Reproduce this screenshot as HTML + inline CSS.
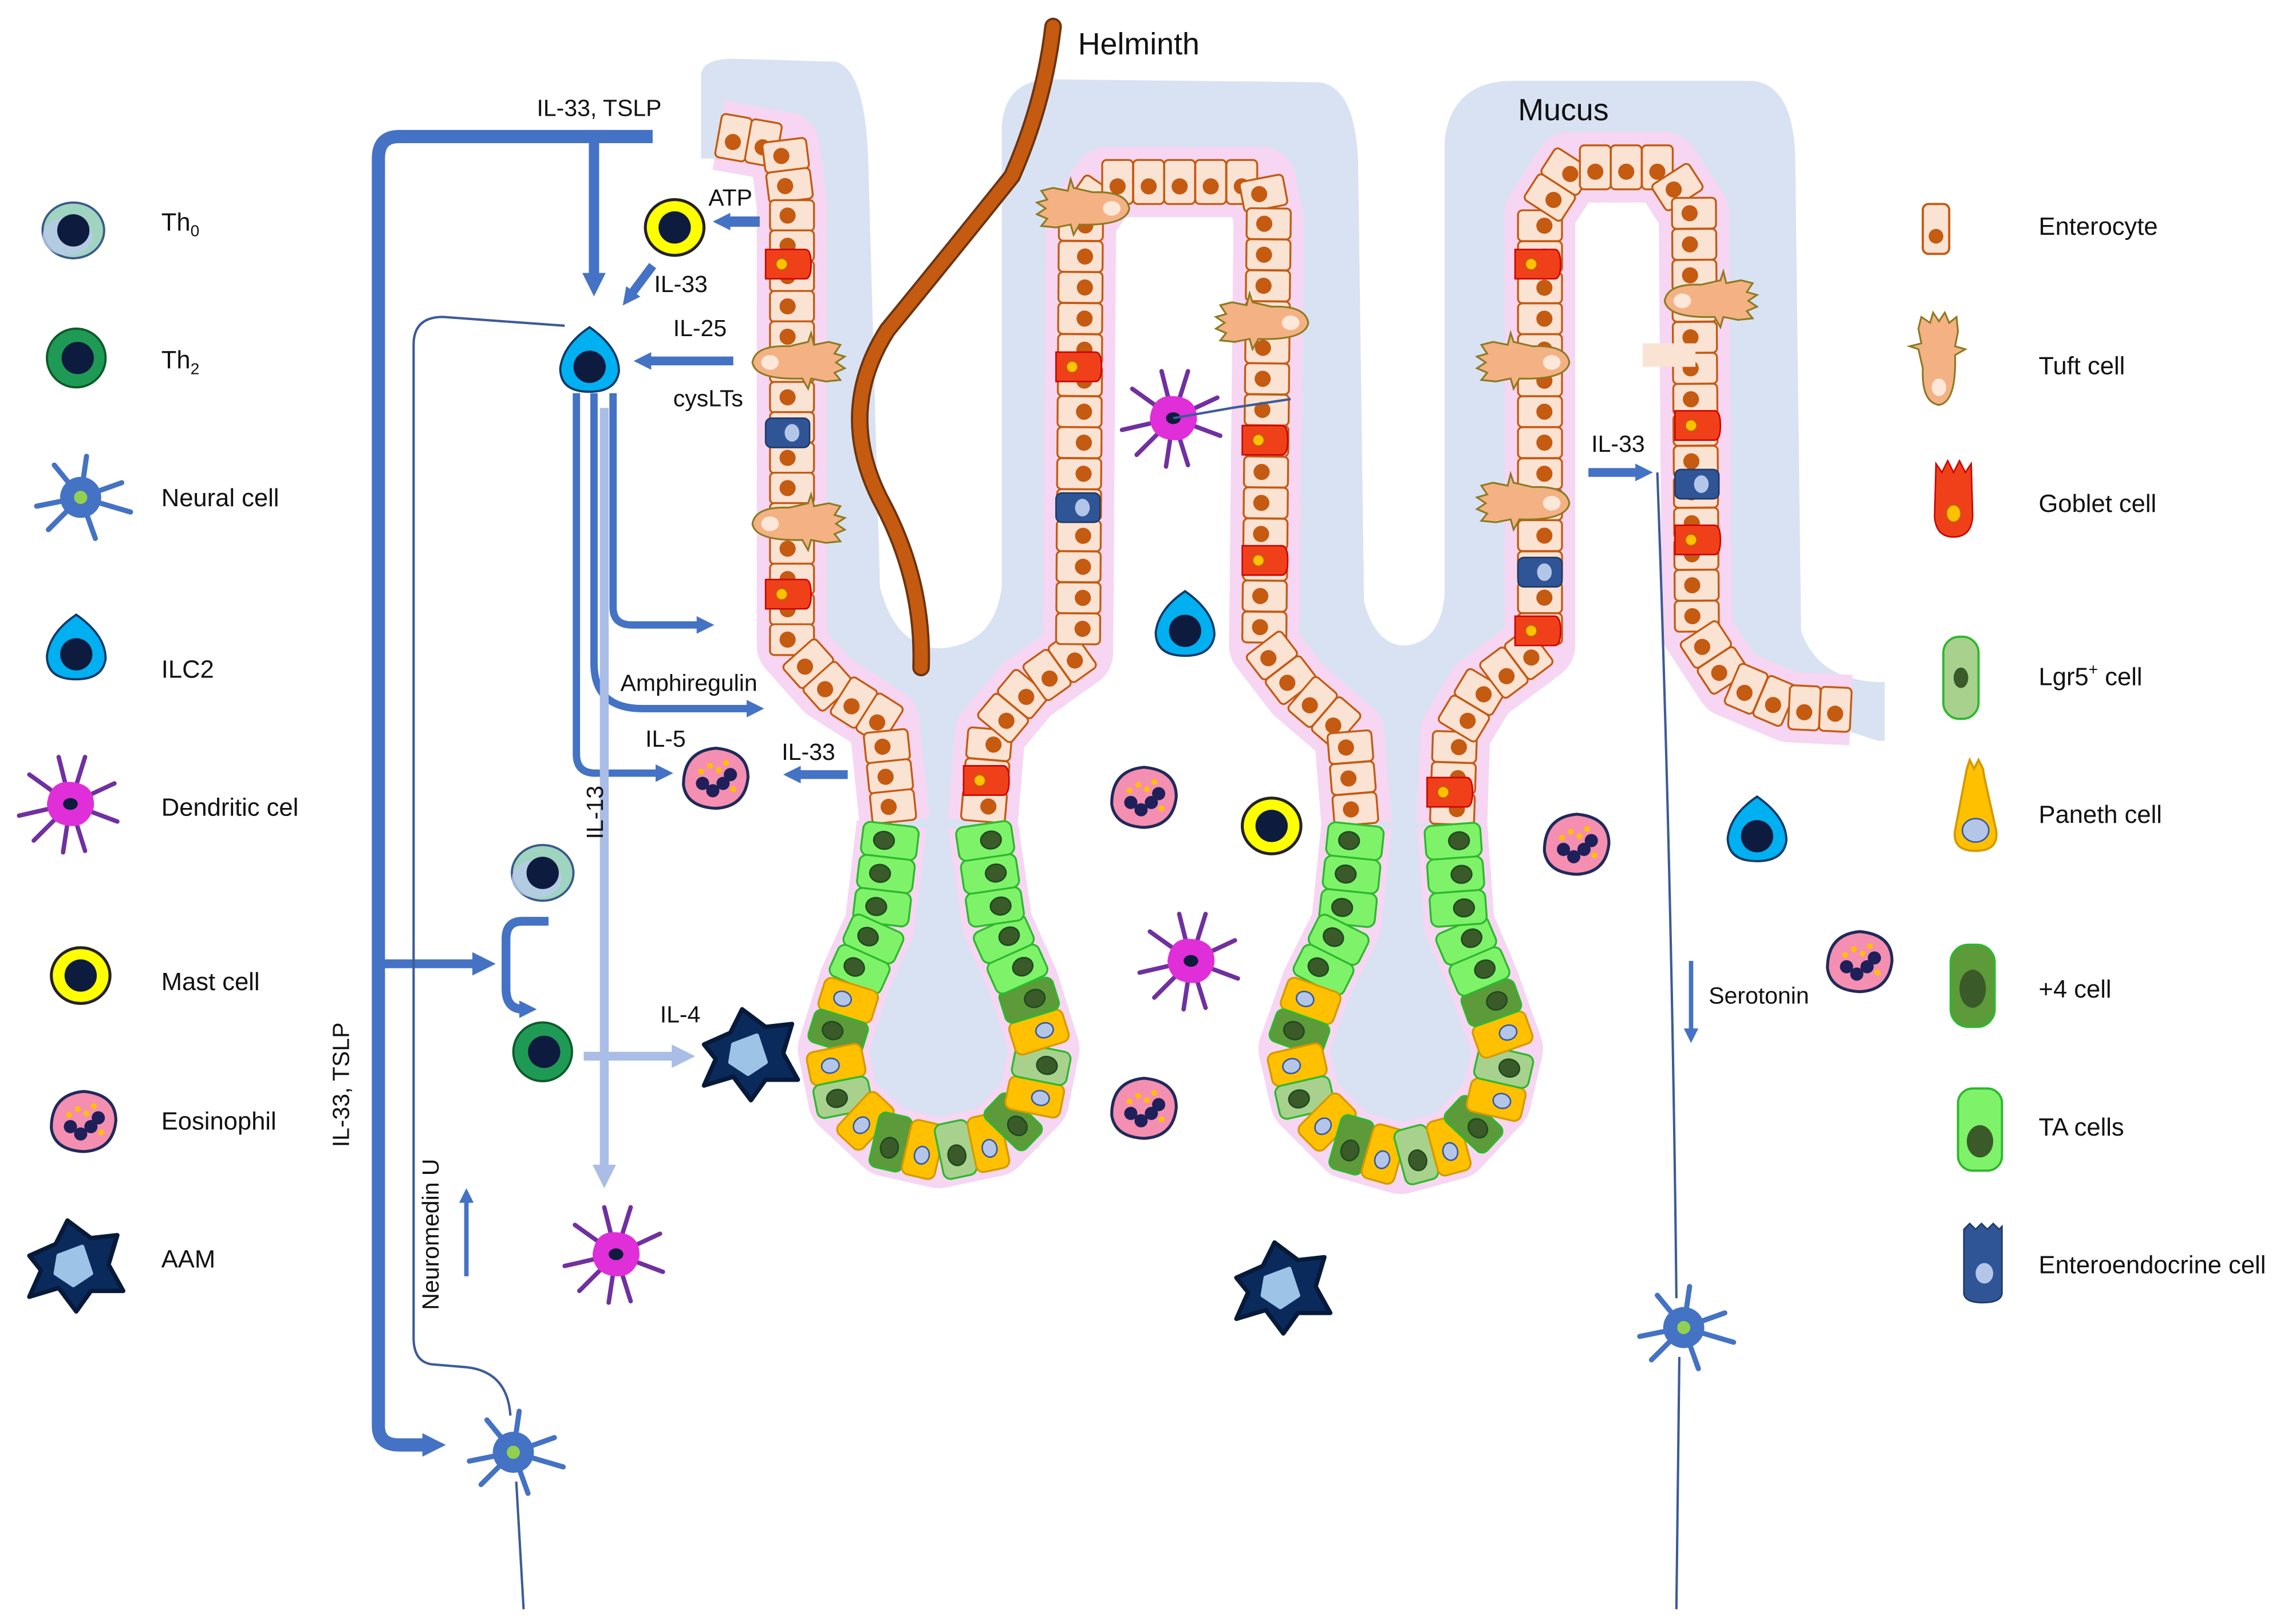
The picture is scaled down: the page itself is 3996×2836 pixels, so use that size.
<!DOCTYPE html>
<html><head><meta charset="utf-8"><style>
html,body{margin:0;padding:0;background:#fff}
svg{display:block}
text{font-family:"Liberation Sans",sans-serif;fill:#111}
</style></head><body>
<svg id="s" width="3996" height="2836" viewBox="0 0 1560 1107" xmlns="http://www.w3.org/2000/svg">
<defs>
<marker id="ah" markerUnits="userSpaceOnUse" markerWidth="20" markerHeight="20" refX="4" refY="10" orient="auto"><path d="M0,2 L16,10 L0,18 Z" fill="#4472c4"/></marker>
<marker id="ahs" markerUnits="userSpaceOnUse" markerWidth="16" markerHeight="16" refX="3" refY="8" orient="auto"><path d="M0,2 L12,8 L0,14 Z" fill="#4472c4"/></marker>
<marker id="ahl" markerUnits="userSpaceOnUse" markerWidth="20" markerHeight="20" refX="4" refY="10" orient="auto"><path d="M0,2 L16,10 L0,18 Z" fill="#a9bde6"/></marker>
<marker id="aht" markerUnits="userSpaceOnUse" markerWidth="12" markerHeight="12" refX="2" refY="6" orient="auto"><path d="M0,1 L10,6 L0,11 Z" fill="#4472c4"/></marker>
</defs>
<path d="M478,50 Q480,40 500,40 L570,42 Q590,48 592,110 L600,400 Q610,440 640,442 Q678,440 683,400 L683,85 Q686,55 715,54 L900,56 Q924,60 926,110 L930,410 Q938,440 958,440 Q982,438 985,405 L985,95 Q990,56 1030,55 L1195,55 Q1222,58 1224,105 L1228,430 Q1240,465 1285,465 L1285,505 L478,505 Z" fill="#d8e2f2"/>
<path d="M470,108 L522,108 L524,440 L560,472 L600,505 L470,505 Z" fill="#fff"/>
<path d="M752,140 L848,140 L850,440 L885,478 L915,505 L695,505 L718,478 L752,440 Z" fill="#fff"/>
<path d="M1066,128 L1140,128 L1143,435 L1172,470 L1290,508 L998,508 L1015,478 L1064,440 Z" fill="#fff"/>
<path d="M612,470 L670,470 L670,560 L690,660 L705,740 L640,782 L575,740 L590,660 L610,560 Z" fill="#d8e2f2"/>
<path d="M928,470 L990,470 L992,560 L1010,660 L1025,745 L955,792 L885,745 L900,660 L922,560 Z" fill="#d8e2f2"/>
<g id="epi"></g>
<path d="M718,18 Q712,70 690,120 Q650,170 605,225 Q570,280 600,340 Q630,395 628,455" fill="none" stroke="#6b3410" stroke-width="12" stroke-linecap="round"/>
<path d="M718,18 Q712,70 690,120 Q650,170 605,225 Q570,280 600,340 Q630,395 628,455" fill="none" stroke="#c55a11" stroke-width="9" stroke-linecap="round"/>
<g id="cells"></g>
<g fill="none" stroke="#4472c4">
<path d="M445,93 L272,93 Q258,93 258,108 L258,972 Q258,985 272,985 L292,985" stroke-width="9" marker-end="url(#ah)"/>
<path d="M405,93 L405,190" stroke-width="7" marker-end="url(#ah)"/>
<path d="M258,657 L326,657" stroke-width="6" marker-end="url(#ah)"/>
<path d="M374,628 L356,628 Q345,628 345,640 L345,674 Q345,688 357,688" stroke-width="6" marker-end="url(#ahs)"/>
<path d="M518,151 L495,151" stroke-width="7" marker-end="url(#ahs)"/>
<path d="M445,181 L430,201" stroke-width="6" marker-end="url(#ahs)"/>
<path d="M500,246 L441,246" stroke-width="6" marker-end="url(#ahs)"/>
<path d="M578,528 L543,528" stroke-width="6" marker-end="url(#ahs)"/>
<path d="M1083,322 L1118,322" stroke-width="6" marker-end="url(#ahs)"/>
<path d="M393,268 L393,514 Q393,527 406,527 L450,527" stroke-width="5" marker-end="url(#ahs)"/>
<path d="M405,268 L405,452 Q405,483 438,483 L512,483" stroke-width="5" marker-end="url(#ahs)"/>
<path d="M418,268 L418,414 Q418,426 431,426 L478,426" stroke-width="5" marker-end="url(#ahs)"/>
<path d="M1153,655 L1153,703" stroke-width="3" marker-end="url(#aht)"/>
<path d="M318,870 L318,818" stroke-width="3" marker-end="url(#aht)"/>
</g>
<g fill="none" stroke="#a9bde6">
<path d="M412,278 L412,798" stroke-width="6" marker-end="url(#ahl)"/>
<path d="M398,720 L462,720" stroke-width="6" marker-end="url(#ahl)"/>
</g>
<g fill="none" stroke="#3d5a99" stroke-width="1.6">
<path d="M348,965 Q346,935 318,932 L294,930 Q282,928 282,912 L282,235 Q282,216 302,216 L385,222"/>
<path d="M352,1010 L357,1097"/>
<path d="M1130,322 Q1140,600 1143,885"/>
<path d="M1145,925 L1143,1097"/>
<path d="M800,285 L840,278 L880,272"/>
</g>
<g font-size="16">
<text x="366" y="79">IL-33, TSLP</text>
<text x="483" y="140">ATP</text>
<text x="446" y="199">IL-33</text>
<text x="459" y="229">IL-25</text>
<text x="459" y="277">cysLTs</text>
<text x="423" y="471">Amphiregulin</text>
<text x="440" y="509">IL-5</text>
<text x="533" y="518">IL-33</text>
<text x="450" y="697">IL-4</text>
<text x="1085" y="308">IL-33</text>
<text x="1165" y="684">Serotonin</text>
<text transform="translate(411,572) rotate(-90)">IL-13</text>
<text transform="translate(238,782) rotate(-90)">IL-33, TSLP</text>
<text transform="translate(299,893) rotate(-90)">Neuromedin U</text>
</g>
<text x="735" y="37" font-size="21">Helminth</text>
<text x="1035" y="82" font-size="21">Mucus</text>
<g font-size="17">
<text x="110" y="157">Th<tspan font-size="11" dy="4">0</tspan></text>
<text x="110" y="251">Th<tspan font-size="11" dy="4">2</tspan></text>
<text x="110" y="345">Neural cell</text>
<text x="110" y="462">ILC2</text>
<text x="110" y="556">Dendritic cel</text>
<text x="110" y="675">Mast cell</text>
<text x="110" y="770">Eosinophil</text>
<text x="110" y="864">AAM</text>
<text x="1390" y="160">Enterocyte</text>
<text x="1390" y="255">Tuft cell</text>
<text x="1390" y="349">Goblet cell</text>
<text x="1390" y="467">Lgr5<tspan font-size="11" dy="-7">+</tspan><tspan dy="7"> cell</tspan></text>
<text x="1390" y="561">Paneth cell</text>
<text x="1390" y="680">+4 cell</text>
<text x="1390" y="774">TA cells</text>
<text x="1390" y="868">Enteroendocrine cell</text>
</g>
</svg>
<script>
(function(){
var epi=document.getElementById('epi'), cg=document.getElementById('cells');
var eh="", ch="";
function walk(pts,step,fn){
  var segs=[],tot=0;
  for(var i=0;i<pts.length-1;i++){var dx=pts[i+1][0]-pts[i][0],dy=pts[i+1][1]-pts[i][1],l=Math.hypot(dx,dy);segs.push([pts[i],dx,dy,l]);tot+=l;}
  var n=Math.max(1,Math.round(tot/step)),st=tot/n;
  for(var k=0;k<n;k++){var d=(k+0.5)*st,j=0;while(j<segs.length-1&&d>segs[j][3]){d-=segs[j][3];j++;}
   var s=segs[j],t=d/s[3];fn(s[0][0]+s[1]*t,s[0][1]+s[2]*t,Math.atan2(s[2],s[1])*180/Math.PI,k,n,st);}
}
function pl(p){return "M"+p.map(function(q){return q.join(",")}).join(" L");}
var ent=[
 [[490,92],[535,100],[540,140],[540,440],[565,468],[603,492],[610,560]],
 [[670,560],[675,500],[700,470],[735,445],[737,150],[755,124],[860,124],[865,150],[862,440],[885,470],[920,500],[925,562]],
 [[990,562],[992,500],[1010,470],[1050,440],[1050,145],[1070,114],[1135,114],[1155,145],[1157,430],[1180,465],[1220,482],[1262,484]]
];
var cr=[
 [[608,562],[600,630],[582,670],[568,715],[575,750],[605,778],[640,786],[678,778],[705,750],[712,715],[698,670],[680,630],[670,562]],
 [[925,562],[918,630],[898,670],[882,715],[890,750],[920,780],[955,790],[992,780],[1020,750],[1028,715],[1012,670],[995,630],[990,562]]
];
ent.concat(cr).forEach(function(p){eh+='<path d="'+pl(p)+'" fill="none" stroke="#f6d6f2" stroke-width="48" stroke-linejoin="round"/>';});
ent.forEach(function(p){walk(p,21,function(x,y,a){
 eh+='<g transform="translate('+x.toFixed(1)+','+y.toFixed(1)+') rotate('+a.toFixed(1)+')"><rect x="-10.5" y="-15" width="21" height="30" rx="3" fill="#fbe3d4" stroke="#c55a11" stroke-width="1.3"/><circle cx="0" cy="3" r="5.5" fill="#c55a11"/></g>';
});});
cr.forEach(function(p){walk(p,23,function(x,y,a,k,n){
 var col="#7ef36a",sk="#2eb82e",nu="#3a5a2a",r=6,nc="#1d4a1d";
 if(k>=5&&k<n-5){var m=(k-5)%4;if(m==0||m==2){col="#ffc000";sk="#d49a00";nu="#b4c6e7";r=5;nc="#3355aa";}else if(m==1){col="#5c9a3a";sk="#2eb82e";}else{col="#a9d18e";}}
 eh+='<g transform="translate('+x.toFixed(1)+','+y.toFixed(1)+') rotate('+a.toFixed(1)+')"><rect x="-11.5" y="-19" width="23" height="38" rx="5" fill="'+col+'" stroke="'+sk+'" stroke-width="1.3"/><ellipse cx="0" cy="4" rx="'+r+'" ry="'+(r+1)+'" fill="'+nu+'" stroke="'+nc+'" stroke-width="1"/></g>';
});});
function gob(x,y){eh+='<g transform="translate('+x+','+y+')"><path d="M-15,-10 L12,-10 Q16,-10 16,0 Q16,10 12,10 L-15,10 Z" fill="#f0401a" stroke="#c00" stroke-width="1"/><circle cx="-4" cy="0" r="4" fill="#ffc000" stroke="#c55a11"/></g>';}
function eec(x,y){eh+='<g transform="translate('+x+','+y+')"><rect x="-15" y="-10" width="30" height="20" rx="4" fill="#2f5597" stroke="#1f3864"/><ellipse cx="3" cy="0" rx="5" ry="6" fill="#b4c6e7"/></g>';}
[[537,180],[537,405],[735,250],[862,300],[862,382],[1048,180],[1048,430],[1157,290],[1157,368],[672,532],[988,540]].forEach(function(q){gob(q[0],q[1]);});
[[537,295],[735,346],[1157,330],[1050,390]].forEach(function(q){eec(q[0],q[1]);});
function tuft(x,y,fl){eh+='<g transform="translate('+x+','+y+') scale('+(fl?-1:1)+',1)"><path d="M-30,0 Q-28,-12 -5,-11 L8,-14 L10,-20 L12,-12 L22,-14 L30,-12 L26,-6 L33,-4 L27,0 L33,4 L26,7 L30,12 L20,13 L10,11 L8,18 L4,11 Q-28,12 -30,0 Z" fill="#f4b183" stroke="#8a7a20" stroke-width="1.2"/><ellipse cx="-18" cy="0" rx="6" ry="5" fill="#fde7d8"/></g>';}
tuft(543,247);tuft(543,357);tuft(740,142,true);tuft(862,220,true);tuft(1040,247,true);tuft(1040,343,true);tuft(1165,205);
eh+='<rect x="1120" y="234" width="36" height="16" fill="#fbe3d4"/>';
epi.innerHTML=eh;
function th0(x,y){return '<ellipse cx="'+x+'" cy="'+y+'" rx="21" ry="19" fill="#9fd4c0" stroke="#3a5a8a" stroke-width="1.5"/><ellipse cx="'+(x-4)+'" cy="'+(y+4)+'" rx="17" ry="13" fill="#b9c9ea" opacity=".8"/><circle cx="'+x+'" cy="'+y+'" r="11" fill="#0d1b3e"/>';}
function th2(x,y){return '<ellipse cx="'+x+'" cy="'+y+'" rx="20" ry="20" fill="#1f9a55" stroke="#0d5a2a" stroke-width="1.5"/><circle cx="'+(x+1)+'" cy="'+y+'" r="11" fill="#0d1b3e"/>';}
function ilc(x,y){return '<path d="M'+x+','+(y-24)+' Q'+(x+20)+','+(y-10)+' '+(x+20)+','+(y+6)+' Q'+(x+18)+','+(y+20)+' '+x+','+(y+20)+' Q'+(x-20)+','+(y+20)+' '+(x-20)+','+(y+4)+' Q'+(x-18)+','+(y-12)+' '+x+','+(y-24)+'Z" fill="#00b0f0" stroke="#0b3a6a" stroke-width="1.5"/><circle cx="'+x+'" cy="'+(y+3)+'" r="11" fill="#0d1b3e"/>';}
function mast(x,y){return '<ellipse cx="'+x+'" cy="'+y+'" rx="20" ry="19" fill="#ffff00" stroke="#222" stroke-width="2"/><circle cx="'+x+'" cy="'+y+'" r="11" fill="#0d1b3e"/>';}
function eos(x,y){var s='<path d="M'+(x-22)+','+(y+5)+' Q'+(x-22)+','+(y-18)+' '+(x)+','+(y-20)+' Q'+(x+22)+','+(y-18)+' '+(x+22)+','+y+' Q'+(x+20)+','+(y+20)+' '+x+','+(y+21)+' Q'+(x-20)+','+(y+20)+' '+(x-22)+','+(y+5)+'Z" fill="#f48fb1" stroke="#1f2a5a" stroke-width="2"/>';
 [[-9,4],[-2,9],[5,4],[10,-2]].forEach(function(o){s+='<circle cx="'+(x+o[0])+'" cy="'+(y+o[1])+'" r="4.5" fill="#1f1f5a"/>';});
 [[-4,-8],[2,-5],[-10,-4],[7,-10],[12,8]].forEach(function(o){s+='<circle cx="'+(x+o[0])+'" cy="'+(y+o[1])+'" r="2" fill="#ffc000"/>';});return s;}
function dc(x,y){var s='';[[-35,8],[-28,-20],[-8,-32],[10,-32],[30,-14],[32,12],[10,32],[-5,33],[-25,25]].forEach(function(o){s+='<path d="M'+x+','+y+' L'+(x+o[0])+','+(y+o[1])+'" stroke="#7030a0" stroke-width="3" stroke-linecap="round"/>';});
 s+='<path d="M'+(x-16)+','+y+' Q'+(x-14)+','+(y-16)+' '+x+','+(y-15)+' Q'+(x+17)+','+(y-14)+' '+(x+16)+','+(y+2)+' Q'+(x+12)+','+(y+16)+' '+x+','+(y+15)+' Q'+(x-15)+','+(y+14)+' '+(x-16)+','+y+'Z" fill="#e02ed8"/>';
 s+='<ellipse cx="'+x+'" cy="'+y+'" rx="5" ry="4" fill="#0d1b3e"/>';return s;}
function neu(x,y){var s='';[[-30,6],[-18,-22],[4,-28],[28,-10],[34,10],[10,28],[-22,22]].forEach(function(o){s+='<path d="M'+x+','+y+' L'+(x+o[0])+','+(y+o[1])+'" stroke="#4472c4" stroke-width="3.5" stroke-linecap="round"/>';});
 s+='<circle cx="'+x+'" cy="'+y+'" r="14" fill="#4472c4"/><circle cx="'+x+'" cy="'+y+'" r="4.5" fill="#92d050"/>';return s;}
function aam(x,y){return '<path d="M'+(x-30)+','+(y-6)+' L'+(x-12)+','+(y-14)+' L'+(x-4)+','+(y-30)+' L'+(x+12)+','+(y-18)+' L'+(x+30)+','+(y-20)+' L'+(x+24)+','+(y)+' L'+(x+34)+','+(y+18)+' L'+(x+12)+','+(y+18)+' L'+(x+2)+','+(y+32)+' L'+(x-10)+','+(y+16)+' L'+(x-30)+','+(y+22)+' L'+(x-22)+','+(y+4)+'Z" fill="#0b2a5c" stroke="#081a3a" stroke-linejoin="round" stroke-width="3"/><path d="M'+(x-10)+','+(y-6)+' L'+(x+6)+','+(y-12)+' L'+(x+12)+','+(y+6)+' L'+(x)+','+(y+14)+' L'+(x-12)+','+(y+6)+'Z" fill="#9dc3e6" stroke-linejoin="round" stroke="#9dc3e6" stroke-width="3"/>';}
ch+=th0(50,157)+th2(52,244)+neu(55,339)+ilc(52,443)+dc(48,548)+mast(55,665)+eos(57,764)+aam(50,862);
ch+=mast(460,155)+ilc(402,247)+eos(488,530)+th0(370,595)+th2(370,717)+aam(510,718)+dc(420,855)+neu(350,990);
ch+=dc(800,285)+ilc(808,427)+eos(780,543)+mast(867,563)+dc(812,655)+eos(780,755)+aam(873,877);
ch+=eos(1075,575)+ilc(1198,567)+eos(1268,655)+neu(1148,905);
ch+='<g transform="translate(1320,156)"><rect x="-9" y="-17" width="18" height="34" rx="4" fill="#fbe3d4" stroke="#c55a11" stroke-width="1.5"/><circle cx="0" cy="5" r="5" fill="#c55a11"/></g>';
ch+='<g transform="translate(1322,246) rotate(-90)"><path d="M-30,0 Q-28,-12 -5,-11 L8,-14 L10,-20 L12,-12 L22,-14 L30,-12 L26,-6 L33,-4 L27,0 L33,4 L26,7 L30,12 L20,13 L10,11 L8,18 L4,11 Q-28,12 -30,0 Z" fill="#f4b183" stroke="#8a7a20" stroke-width="1.2"/><ellipse cx="-18" cy="0" rx="6" ry="5" fill="#fde7d8"/></g>';
ch+='<g transform="translate(1332,340)"><path d="M-12,-24 L-8,-18 L-4,-26 L0,-18 L4,-26 L8,-18 L12,-24 L13,12 Q12,26 0,26 Q-12,26 -13,12 Z" fill="#f0401a" stroke="#c00"/><ellipse cx="0" cy="10" rx="5" ry="6" fill="#ffc000" stroke="#c55a11"/></g>';
ch+='<g transform="translate(1337,462)"><rect x="-12" y="-28" width="24" height="56" rx="11" fill="#a9d18e" stroke="#2eb82e" stroke-width="1.5"/><ellipse cx="0" cy="0" rx="5" ry="7" fill="#3a5a2a"/></g>';
ch+='<g transform="translate(1347,552)"><path d="M-6,-28 L-4,-34 L-1,-28 L2,-34 L5,-28 L6,-22 L14,14 Q16,28 0,28 Q-16,28 -14,14 Z" fill="#ffc000" stroke="#d49a00" stroke-width="1.5"/><ellipse cx="0" cy="14" rx="9" ry="8" fill="#b4c6e7" stroke="#3355aa"/></g>';
ch+='<g transform="translate(1345,672)"><rect x="-15" y="-28" width="30" height="56" rx="12" fill="#5c9a3a" stroke="#2eb82e" stroke-width="1.5"/><ellipse cx="0" cy="2" rx="9" ry="13" fill="#3a5a2a"/></g>';
ch+='<g transform="translate(1350,770)"><rect x="-15" y="-28" width="30" height="56" rx="10" fill="#7ef36a" stroke="#2eb82e" stroke-width="1.5"/><ellipse cx="0" cy="8" rx="9" ry="11" fill="#3a5a2a"/></g>';
ch+='<g transform="translate(1352,862)"><path d="M-13,-24 L-9,-28 L-5,-24 L-1,-28 L3,-24 L7,-28 L11,-24 L13,-26 L13,20 Q12,26 0,26 Q-12,26 -13,20 Z" fill="#2f5597" stroke="#1f3864"/><ellipse cx="1" cy="6" rx="6" ry="7" fill="#b4c6e7"/></g>';
cg.innerHTML=ch;
})();
</script>
</body></html>
